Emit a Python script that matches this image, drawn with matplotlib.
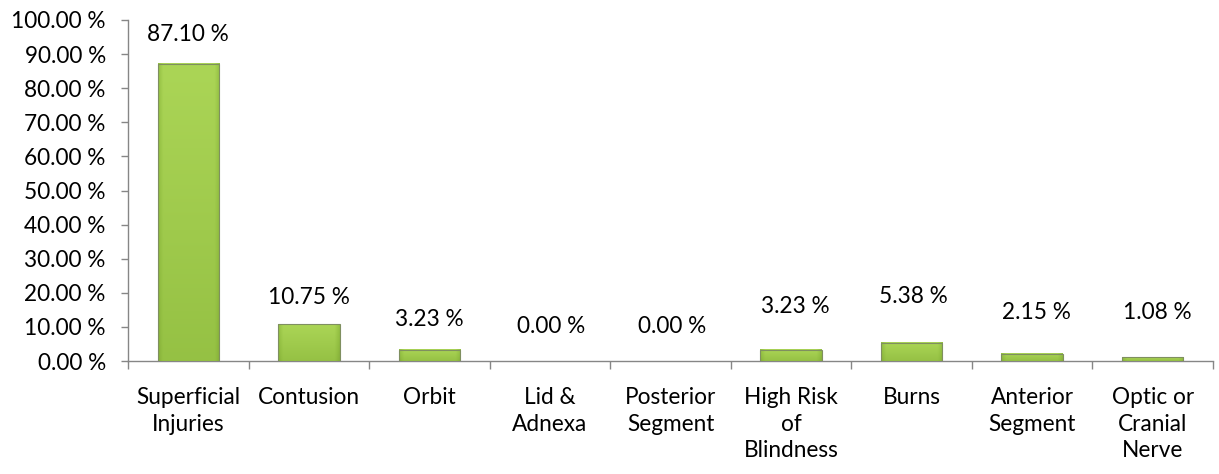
import matplotlib
matplotlib.use("Agg")
import matplotlib.pyplot as plt
import numpy as np
from matplotlib.colors import LinearSegmentedColormap

categories = ["Superficial\nInjuries", "Contusion", "Orbit", "Lid &\nAdnexa",
              "Posterior\nSegment", "High Risk\nof\nBlindness", "Burns",
              "Anterior\nSegment", "Optic or\nCranial\nNerve"]
values = [87.10, 10.75, 3.23, 0.00, 0.00, 3.23, 5.38, 2.15, 1.08]
value_labels = ["87.10 %", "10.75 %", "3.23 %", "0.00 %", "0.00 %",
                "3.23 %", "5.38 %", "2.15 %", "1.08 %"]
yticks = [0, 10, 20, 30, 40, 50, 60, 70, 80, 90, 100]
ytick_labels = ["0.00 %", "10.00 %", "20.00 %", "30.00 %", "40.00 %", "50.00 %",
                "60.00 %", "70.00 %", "80.00 %", "90.00 %", "100.00 %"]
# label vertical offsets above bar tops (points) -- style
label_offsets = [21, 19, 22, 25, 25, 31, 33, 30, 32]
# label horizontal offsets (points) -- style
label_dx = [0, 0, 0, 1, 1, 3, 1, 3, 3]

FS = 16.3
plt.rcParams['font.family'] = ['Lato', 'DejaVu Sans']
fig = plt.figure(figsize=(12.19, 4.74), dpi=100)
ax = fig.add_axes([128/1219, 113/474, (1213-128)/1219, 341/474])

x = np.arange(len(values))
bars = ax.bar(x, values, width=0.51, color="none", edgecolor="none", zorder=3)

cmap = LinearSegmentedColormap.from_list("g", ["#749a2e", "#93bf42", "#abd556"])
for b in bars:
    h = b.get_height()
    if h <= 0:
        continue
    x0, w = b.get_x(), b.get_width()
    ny, nx = 100, 60
    yy = np.linspace(0, 1, ny)[:, None]
    xx = np.linspace(0, 1, nx)[None, :]
    base = 0.55 + 0.45 * yy
    edge = np.minimum(xx, 1 - xx)
    side = np.clip(edge / 0.08, 0, 1)
    img = base * (0.55 + 0.45 * side)
    ax.imshow(img, cmap=cmap, vmin=0, vmax=1, origin="lower", aspect="auto",
              extent=(x0, x0 + w, 0, h), zorder=3, interpolation="bilinear")
    ax.add_patch(plt.Rectangle((x0, 0), w, h, fill=False, edgecolor="#7f8f60",
                               lw=0.8, zorder=4))

for xi, v, lab, off, dx in zip(x, values, value_labels, label_offsets, label_dx):
    ax.annotate(lab, (xi, v), xytext=(dx, off), textcoords="offset points",
                ha="center", va="center", fontsize=FS, color="#000000")

ax.set_xlim(-0.5, len(values) - 0.5)
ax.set_ylim(0, 100)
ax.set_yticks(yticks)
ax.set_yticklabels(ytick_labels, fontsize=FS)
ax.set_xticks(x)
ax.set_xticklabels(categories, fontsize=FS, linespacing=1.32, va="top")
ax.tick_params(axis="x", length=0, pad=19)
ax.set_xticks(np.arange(-0.5, len(values)), minor=True)
ax.tick_params(axis="x", which="minor", length=6, color="#868686", width=1)
ax.tick_params(axis="y", length=5, color="#868686", width=1, pad=11)
for s in ["top", "right"]:
    ax.spines[s].set_visible(False)
for s in ["left", "bottom"]:
    ax.spines[s].set_color("#868686")
    ax.spines[s].set_linewidth(1)
ax.set_facecolor("none")

fig.savefig("out.png", dpi=100)
